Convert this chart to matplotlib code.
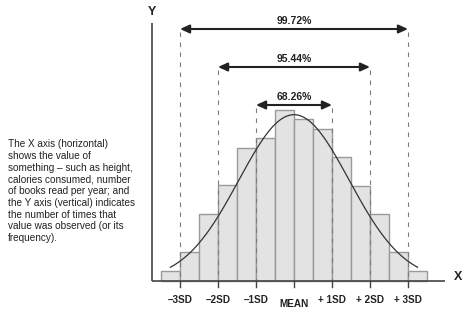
import numpy as np
import matplotlib
matplotlib.use("Agg")
import matplotlib.pyplot as plt

# ---- data (x in SD units, y in frequency units) ----
bar_left_edges = [-3.5, -3.0, -2.5, -2.0, -1.5, -1.0, -0.5, 0.0, 0.5, 1.0, 1.5, 2.0, 2.5, 3.0]
bar_heights = [10, 29, 67, 96, 133, 143, 171, 162, 152, 124, 95, 67, 29, 10]
bar_width = 0.5

curve_peak = 166
curve_sigma = 1.45
curve_range = (-3.25, 3.25)

sd_positions = [-3, -2, -1, 0, 1, 2, 3]
sd_labels = ["\u20133SD", "\u20132SD", "\u20131SD", "MEAN", "+ 1SD", "+ 2SD", "+ 3SD"]

ranges = [(-3, 3), (-2, 2), (-1, 1)]
range_labels = ["99.72%", "95.44%", "68.26%"]
range_arrow_y = [251.7, 213.7, 175.7]

note = ("The X axis (horizontal)\nshows the value of\nsomething \u2013 such as height,\n"
        "calories consumed, number\nof books read per year; and\nthe Y axis (vertical) indicates\n"
        "the number of times that\nvalue was observed (or its\nfrequency).")

# ---- figure ----
W, H, DPI = 474, 322, 100
fig = plt.figure(figsize=(W / DPI, H / DPI), dpi=DPI)
ax = fig.add_axes([0, 0, 1, 1])
mean_px, sd_px, base_px = 294.0, 38.0, 280.7
ax.set_xlim((0 - mean_px) / sd_px, (W - mean_px) / sd_px)
ax.set_ylim(base_px - H, base_px)
ax.axis("off")

def px2x(px):
    return (px - mean_px) / sd_px

# bars
ax.bar(bar_left_edges, bar_heights, width=bar_width, align="edge",
       color="#e3e3e3", edgecolor="#9a9a9a", linewidth=1.0, zorder=1)

# dashed lines
for (lo, hi), yv in zip(ranges, range_arrow_y):
    for xv in (lo, hi):
        ax.plot([xv, xv], [yv - 3, 0], color="#7a7a7a", linewidth=0.8,
                linestyle=(0, (4, 5)), zorder=2)

# normal curve
xs = np.linspace(curve_range[0], curve_range[1], 300)
ys = curve_peak * np.exp(-0.5 * (xs / curve_sigma) ** 2)
ax.plot(xs, ys, color="#333333", linewidth=0.9, zorder=3)

# axes
ax.plot([px2x(152.3), px2x(152.3)], [0, base_px - 23], color="#444444", linewidth=1.2,
        solid_capstyle="butt", zorder=4)
ax.plot([px2x(152.3), px2x(445)], [0, 0], color="#444444", linewidth=1.2,
        solid_capstyle="butt", zorder=4)
for xv in sd_positions:
    ax.plot([xv, xv], [0, -6], color="#444444", linewidth=1.0, zorder=4)

# tick labels
for xv, lab in zip(sd_positions, sd_labels):
    yv = -23.3 if lab == "MEAN" else -19.3
    ax.text(xv, yv, lab, ha="center", va="center", fontsize=7.2, fontweight="bold",
            family="Liberation Sans", color="#222222")

ax.text(px2x(152), base_px - 12, "Y", ha="center", va="center", fontsize=9,
        fontweight="bold", family="Liberation Sans", color="#222222")
ax.text(px2x(458), base_px - 277, "X", ha="center", va="center", fontsize=9,
        fontweight="bold", family="Liberation Sans", color="#222222")

# range arrows
for (lo, hi), lab, yv in zip(ranges, range_labels, range_arrow_y):
    ax.annotate("", xy=(lo, yv), xytext=(hi, yv),
                arrowprops=dict(arrowstyle="<|-|>,head_length=0.55,head_width=0.25",
                                color="#222222", lw=1.5, shrinkA=0, shrinkB=0,
                                mutation_scale=10), zorder=5)
    ax.text(0, yv + 8.5, lab, ha="center", va="center", fontsize=7.5, fontweight="bold",
            family="Liberation Sans", color="#222222")

# note text
fig.text(8 / W, 1 - 139 / H, note, ha="left", va="top", fontsize=7.2,
         family="Liberation Sans", color="#222222", linespacing=1.22)

fig.savefig("out.png", dpi=DPI)
